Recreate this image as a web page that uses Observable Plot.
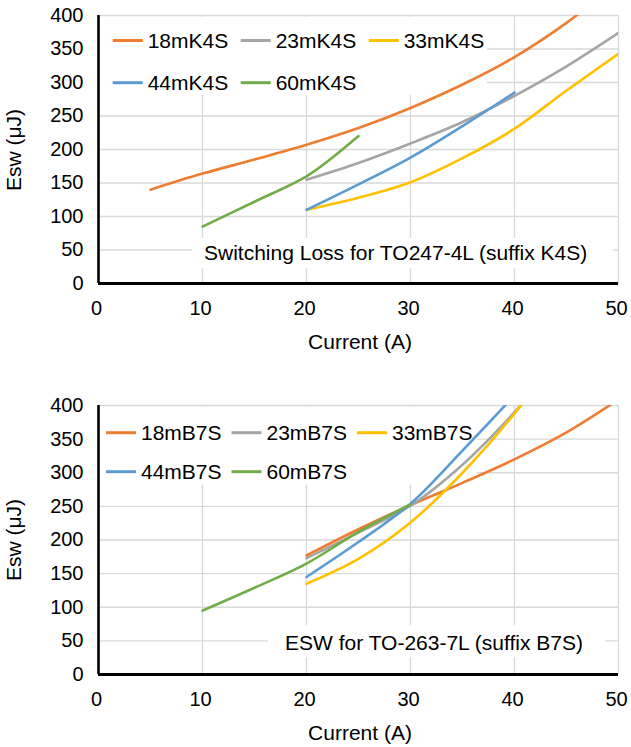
<!DOCTYPE html>
<html>
<head>
<meta charset="utf-8">
<script src="https://cdn.jsdelivr.net/npm/d3@7"></script>
<script src="https://cdn.jsdelivr.net/npm/@observablehq/plot@0.6"></script>
<style>
  html, body { margin: 0; padding: 0; background: #fff; }
  svg { display: block; }
</style>
</head>
<body>
<div id="chart"></div>
<script>
// ---------- shared axis data ----------
const xTicks = [0, 10, 20, 30, 40, 50];
const yTicks = [0, 50, 100, 150, 200, 250, 300, 350, 400];
const seriesColors = ["#ED7D31", "#A5A5A5", "#FFC000", "#5B9BD5", "#70AD47"];

// ---------- top chart: TO247-4L (K4S) ----------
const k4sTitle = "Switching Loss for TO247-4L (suffix K4S)";
const k4sNames = ["18mK4S", "23mK4S", "33mK4S", "44mK4S", "60mK4S"];
const k4s18Current = [5, 10, 15, 20, 25, 30, 35, 40, 45, 50];
const k4s18Esw     = [140, 164, 185, 207, 232, 262, 297, 338, 389, 450];
const k4s23Current = [20, 25, 30, 35, 40, 45, 50];
const k4s23Esw     = [155, 180, 209, 241, 280, 324, 374];
const k4s33Current = [20, 25, 30, 35, 40, 45, 50];
const k4s33Esw     = [110, 128, 151, 187, 231, 288, 343];
const k4s44Current = [20, 25, 30, 35, 40];
const k4s44Esw     = [110, 148, 188, 235, 285];
const k4s60Current = [10, 15, 20, 22.5, 25];
const k4s60Esw     = [85, 122, 160, 188, 220];

// ---------- bottom chart: TO-263-7L (B7S) ----------
const b7sTitle = "ESW for TO-263-7L (suffix B7S)";
const b7sNames = ["18mB7S", "23mB7S", "33mB7S", "44mB7S", "60mB7S"];
const b7s18Current = [20, 25, 30, 35, 40, 45, 50];
const b7s18Esw     = [177, 216, 252, 285, 320, 360, 409];
const b7s23Current = [20, 25, 30, 35, 40, 45];
const b7s23Esw     = [173, 211, 251, 312, 390, 480];
const b7s33Current = [20, 25, 30, 35, 40, 45];
const b7s33Esw     = [135, 172, 226, 300, 388, 490];
const b7s44Current = [20, 25, 30, 35, 40];
const b7s44Esw     = [145, 197, 254, 333, 415];
const b7s60Current = [10, 15, 20, 25, 30];
const b7s60Esw     = [95, 129, 165, 212, 253];

const xLabel = "Current (A)";
const yLabel = "Esw (μJ)";

function tidy(names, currents, esws) {
  const rows = [];
  names.forEach((name, i) => {
    currents[i].forEach((c, j) => rows.push({series: name, current: c, esw: esws[i][j]}));
  });
  return rows;
}

const FONT = "'Liberation Sans', Arial, sans-serif";

function decor(fn) {
  return (index, scales, values, dims) => {
    const g = d3.create("svg:g");
    fn(g, dims);
    return g.node();
  };
}

function addText(g, x, y, str, anchor) {
  return g.append("text").attr("x", x).attr("y", y).attr("dy", "0.35em")
    .attr("text-anchor", anchor).attr("font-size", 21).attr("font-family", FONT)
    .attr("fill", "#000").text(str);
}

function makeChart(cfg) {
  const data = tidy(cfg.names, cfg.currents, cfg.esws);
  return Plot.plot({
    width: 631,
    height: cfg.height,
    marginTop: cfg.marginTop,
    marginBottom: cfg.marginBottom,
    marginLeft: 98,
    marginRight: 13,
    style: {fontFamily: FONT, fontSize: "20px", color: "#000", background: "#fff"},
    x: {domain: [0, 50]},
    y: {domain: [0, 400]},
    color: {domain: cfg.names, range: seriesColors},
    marks: [
      Plot.gridX(xTicks.slice(1), {stroke: "#d9d9d9", strokeOpacity: 1, strokeWidth: 1.3}),
      Plot.gridY(yTicks.slice(1), {stroke: "#d9d9d9", strokeOpacity: 1, strokeWidth: 1.3}),
      decor((g) => {
        for (const [x, y, w, h] of cfg.boxes) {
          g.append("rect").attr("x", x).attr("y", y).attr("width", w).attr("height", h).attr("fill", "#fff");
        }
      }),
      Plot.line(data, {
        x: "current", y: "esw", z: "series", stroke: "series",
        strokeWidth: 2.6, curve: "catmull-rom", clip: true
      }),
      Plot.ruleX([0], {stroke: "#000", strokeWidth: 2.6}),
      Plot.ruleY([0], {stroke: "#000", strokeWidth: 2.8}),
      Plot.axisX({ticks: xTicks, tickSize: 0, tickPadding: 17, dx: -2, label: null, fontSize: 20}),
      Plot.axisY({ticks: yTicks, tickSize: 0, tickPadding: 15, label: null, fontSize: 20}),
      decor((g) => {
        cfg.names.forEach((name, i) => {
          const col = i % 3, row = Math.floor(i / 3);
          const x = cfg.legX + col * cfg.legDx;
          const y = cfg.legRows[row];
          g.append("line").attr("x1", x).attr("x2", x + 30).attr("y1", y).attr("y2", y)
            .attr("stroke", seriesColors[i]).attr("stroke-width", 3);
          addText(g, x + 35, y, name, "start");
        });
        addText(g, cfg.noteX, cfg.noteY, cfg.title, "start");
        addText(g, 360, cfg.xLabY, xLabel, "middle");
        g.append("text").attr("transform", `translate(14,${cfg.yLabY}) rotate(-90)`).attr("dy", "0.35em")
          .attr("text-anchor", "middle").attr("font-size", 21).attr("font-family", FONT)
          .attr("fill", "#000").text(yLabel);
      })
    ]
  });
}

const topChart = makeChart({
  height: 370, marginTop: 15, marginBottom: 87,
  names: k4sNames,
  currents: [k4s18Current, k4s23Current, k4s33Current, k4s44Current, k4s60Current],
  esws: [k4s18Esw, k4s23Esw, k4s33Esw, k4s44Esw, k4s60Esw],
  boxes: [[100, 17, 387, 78], [192, 238, 421, 30]],
  legX: 112.7, legDx: 128, legRows: [40.5, 82.7],
  title: k4sTitle, noteX: 204, noteY: 253,
  xLabY: 341.5, yLabY: 150
});

const bottomChart = makeChart({
  height: 377, marginTop: 35, marginBottom: 73,
  names: b7sNames,
  currents: [b7s18Current, b7s23Current, b7s33Current, b7s44Current, b7s60Current],
  esws: [b7s18Esw, b7s23Esw, b7s33Esw, b7s44Esw, b7s60Esw],
  boxes: [[100, 37, 377, 78], [268, 255, 337, 32]],
  legX: 106, legDx: 125.5, legRows: [62.7, 101.7],
  title: b7sTitle, noteX: 285, noteY: 273,
  xLabY: 363, yLabY: 170
});

const chartEl = document.getElementById("chart");
chartEl.appendChild(topChart);
chartEl.appendChild(bottomChart);
</script>
</body>
</html>
